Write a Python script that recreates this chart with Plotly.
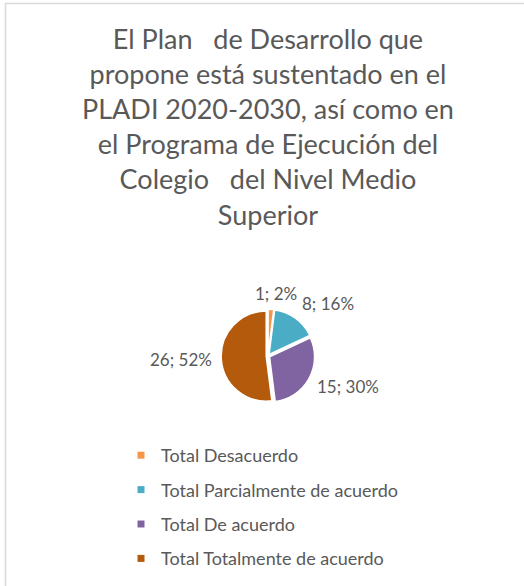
import math
import plotly.graph_objects as go

categories = ["Total Desacuerdo", "Total Parcialmente de acuerdo", "Total De acuerdo", "Total Totalmente de acuerdo"]
values = [1, 8, 15, 26]
colors = ["#F79646", "#4BACC6", "#8064A2", "#B45A0C"]
title_lines = ["El Plan\u00a0\u00a0 de Desarrollo que", "propone está sustentado en el",
               "PLADI 2020-2030, así como en", "el Programa de Ejecución del",
               "Colegio\u00a0\u00a0 del Nivel Medio", "Superior"]

W, H = 524, 586
FONT = "Lato"
TXT = "#595959"
CX, CY, R = 268, 356, 45
PULL = 0.04


def px(x):
    return x / W


def py(y):
    return 1 - y / H


fig = go.Figure()
half = R * (1 + PULL)
fig.add_trace(go.Pie(
    labels=categories, values=values, sort=False, direction="clockwise", rotation=0,
    marker=dict(colors=colors, line=dict(color="white", width=1.5)),
    pull=[PULL] * len(values), textinfo="none",
    showlegend=False, hoverinfo="label+value+percent",
    domain=dict(x=[px(CX - half), px(CX + half)], y=[py(CY + half), py(CY - half)]),
))
for i, (c, col) in enumerate(zip(categories, colors)):
    fig.add_trace(go.Scatter(
        x=[None], y=[None], mode="markers", name=c, legendgroup=str(i),
        marker=dict(symbol="square", size=7, color=col), showlegend=True,
    ))

# data labels placed around the pie from each slice's mid angle
total = sum(values)
annotations = []
cum = 0
for v in values:
    mid = (cum + v / 2) / total * 2 * math.pi
    cum += v
    s, c = math.sin(mid), math.cos(mid)
    lr = R * 1.2
    lx, ly = CX + lr * s, CY - lr * c
    if abs(s) < 0.25:
        xa = "center"
        lx += 5
    else:
        xa = "left" if s > 0 else "right"
    if c > 0.5:
        ya = "bottom"
        ly += 4
    elif c < -0.5:
        ya = "top"
    else:
        ya = "middle"
        if s > 0:
            ly += 4
    annotations.append(dict(
        x=px(lx), y=py(ly), xref="paper", yref="paper", xanchor=xa, yanchor=ya,
        text=f"{v}; {round(v / total * 100)}%", showarrow=False,
        font=dict(family=FONT, size=17, color=TXT),
    ))

annotations.append(dict(
    x=px(268), y=py(20), xref="paper", yref="paper", xanchor="center", yanchor="top",
    text="<br>".join(title_lines), showarrow=False, align="center",
    font=dict(family=FONT, size=27, color=TXT),
))

fig.update_layout(
    width=W, height=H, margin=dict(l=0, r=0, t=0, b=0),
    paper_bgcolor="white", plot_bgcolor="white",
    xaxis=dict(visible=False), yaxis=dict(visible=False),
    annotations=annotations,
    legend=dict(x=px(121), xanchor="left", y=py(437), yanchor="top",
                font=dict(family=FONT, size=18, color=TXT), tracegroupgap=8,
                itemclick=False),
    shapes=[dict(type="path", xref="paper", yref="paper",
                 path=f"M {px(5.5)},-0.05 L {px(5.5)},{py(3.5)} L 1.05,{py(3.5)}",
                 line=dict(color="#D9D9D9", width=1.5))],
)
fig.write_html("out.html", config={"displayModeBar": False},
               post_script="document.body.style.margin='0';document.body.style.overflow='hidden';")
